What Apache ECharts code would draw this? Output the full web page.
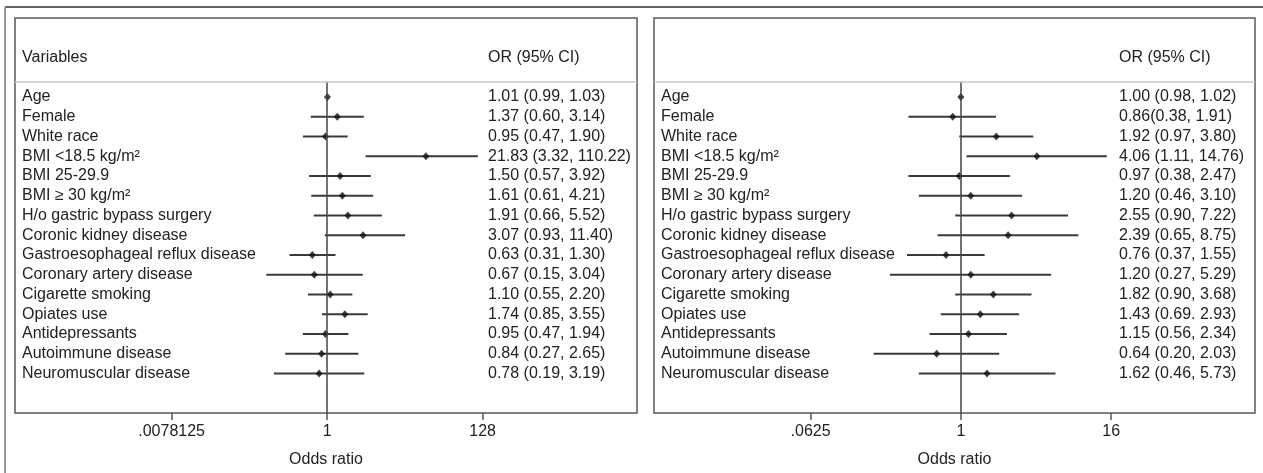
<!DOCTYPE html>
<html>
<head>
<meta charset="utf-8">
<script src="https://cdn.jsdelivr.net/npm/echarts@6/dist/echarts.min.js"></script>
<style>
html,body{margin:0;padding:0;background:#fff;}
#chart{width:1263px;height:473px;}
</style>
</head>
<body>
<div id="chart"></div>
<script>
// ---- data ----
const variables = [
  'Age', 'Female', 'White race', 'BMI <18.5 kg/m²', 'BMI 25-29.9', 'BMI ≥ 30 kg/m²',
  'H/o gastric bypass surgery', 'Coronic kidney disease', 'Gastroesophageal reflux disease',
  'Coronary artery disease', 'Cigarette smoking', 'Opiates use', 'Antidepressants',
  'Autoimmune disease', 'Neuromuscular disease'
];
// Left panel
const orL = [1.01, 1.37, 0.95, 21.83, 1.50, 1.61, 1.91, 3.07, 0.63, 0.67, 1.10, 1.74, 0.95, 0.84, 0.78];
const loL = [0.99, 0.60, 0.47, 3.32, 0.57, 0.61, 0.66, 0.93, 0.31, 0.15, 0.55, 0.85, 0.47, 0.27, 0.19];
const hiL = [1.03, 3.14, 1.90, 110.22, 3.92, 4.21, 5.52, 11.40, 1.30, 3.04, 2.20, 3.55, 1.94, 2.65, 3.19];
const textL = [
  '1.01 (0.99, 1.03)', '1.37 (0.60, 3.14)', '0.95 (0.47, 1.90)', '21.83 (3.32, 110.22)',
  '1.50 (0.57, 3.92)', '1.61 (0.61, 4.21)', '1.91 (0.66, 5.52)', '3.07 (0.93, 11.40)',
  '0.63 (0.31, 1.30)', '0.67 (0.15, 3.04)', '1.10 (0.55, 2.20)', '1.74 (0.85, 3.55)',
  '0.95 (0.47, 1.94)', '0.84 (0.27, 2.65)', '0.78 (0.19, 3.19)'
];
// Right panel
const orR = [1.00, 0.86, 1.92, 4.06, 0.97, 1.20, 2.55, 2.39, 0.76, 1.20, 1.82, 1.43, 1.15, 0.64, 1.62];
const loR = [0.98, 0.38, 0.97, 1.11, 0.38, 0.46, 0.90, 0.65, 0.37, 0.27, 0.90, 0.69, 0.56, 0.20, 0.46];
const hiR = [1.02, 1.91, 3.80, 14.76, 2.47, 3.10, 7.22, 8.75, 1.55, 5.29, 3.68, 2.93, 2.34, 2.03, 5.73];
const textR = [
  '1.00 (0.98, 1.02)', '0.86(0.38, 1.91)', '1.92 (0.97, 3.80)', '4.06 (1.11, 14.76)',
  '0.97 (0.38, 2.47)', '1.20 (0.46, 3.10)', '2.55 (0.90, 7.22)', '2.39 (0.65, 8.75)',
  '0.76 (0.37, 1.55)', '1.20 (0.27, 5.29)', '1.82 (0.90, 3.68)', '1.43 (0.69. 2.93)',
  '1.15 (0.56, 2.34)', '0.64 (0.20, 2.03)', '1.62 (0.46, 5.73)'
];
// Axis ticks
const ticksL = [0.0078125, 1, 128];
const tickLabelsL = ['.0078125', '1', '128'];
const ticksR = [0.0625, 1, 16];
const tickLabelsR = ['.0625', '1', '16'];
const headerVar = 'Variables';
const headerOR = 'OR (95% CI)';
const axisTitle = 'Odds ratio';

// ---- chart ----
const FONT = 'Liberation Sans, Arial, sans-serif';
const TXT = '#222';
const FS = 16;
const HEADER_ROW = -2;
const SEP_ROW = -0.77;

function tickFmt(vals, labels) {
  return function (v) {
    let best = -1, bd = Infinity;
    vals.forEach((t, i) => {
      const d = Math.abs(Math.log2(v) - Math.log2(t));
      if (d < bd) { bd = d; best = i; }
    });
    return bd < 0.01 ? labels[best] : '';
  };
}

function makeX(gi, min, max, vals, labels) {
  return {
    type: 'log', logBase: 2, gridIndex: gi, min: min, max: max,
    axisLine: { show: false, onZero: false },
    axisTick: { show: true, length: 7, customValues: vals, lineStyle: { color: '#555', width: 1.5 } },
    axisLabel: { customValues: vals, formatter: tickFmt(vals, labels), color: TXT, fontSize: FS, fontFamily: FONT, margin: 11 },
    splitLine: { show: false }, minorTick: { show: false }, minorSplitLine: { show: false },
    name: axisTitle, nameLocation: 'middle', nameGap: 39,
    nameTextStyle: { color: TXT, fontSize: FS, fontFamily: FONT }
  };
}

function makeYLeft(gi, margin, withHeader) {
  return {
    type: 'value', gridIndex: gi, min: -4, max: 16, interval: 1, inverse: true, position: 'left',
    axisLine: { show: false, onZero: false }, axisTick: { show: false }, splitLine: { show: false },
    axisLabel: {
      inside: true, margin: margin, align: 'left', color: TXT, fontSize: FS, fontFamily: FONT,
      formatter: v => (v === HEADER_ROW ? (withHeader ? headerVar : '') : (variables[v] || ''))
    }
  };
}
function makeYRight(gi, margin, texts) {
  return {
    type: 'value', gridIndex: gi, min: -4, max: 16, interval: 1, inverse: true, position: 'right',
    axisLine: { show: false, onZero: false }, axisTick: { show: false }, splitLine: { show: false },
    axisLabel: {
      inside: true, margin: margin, align: 'left', color: TXT, fontSize: FS, fontFamily: FONT,
      formatter: v => (v === HEADER_ROW ? headerOR : (texts[v] || ''))
    }
  };
}

function panelSeries(gi, or, lo, hi) {
  const ciData = or.map((_, i) => [lo[i], hi[i], i]);
  const ptData = or.map((v, i) => [v, i]);
  return [
    {
      type: 'custom', xAxisIndex: gi, yAxisIndex: gi * 2, silent: true,
      encode: { x: [0, 1], y: 2 },
      data: ciData,
      renderItem: function (params, api) {
        const a = api.coord([api.value(0), api.value(2)]);
        const b = api.coord([api.value(1), api.value(2)]);
        return { type: 'line', shape: { x1: a[0], y1: a[1], x2: b[0], y2: b[1] }, style: { stroke: '#3a3a3a', lineWidth: 2.2 } };
      },
      z: 3
    },
    {
      type: 'scatter', xAxisIndex: gi, yAxisIndex: gi * 2, silent: true,
      symbol: 'diamond', symbolSize: [7, 8],
      itemStyle: { color: '#111' },
      data: ptData, z: 4,
      markLine: {
        silent: true, symbol: 'none', label: { show: false },
        data: [
          [{ coord: [1, SEP_ROW] }, { coord: [1, 16] }]
        ],
        lineStyle: { color: '#444', width: 1.5, type: 'solid' }
      }
    },
    {
      type: 'line', xAxisIndex: gi, yAxisIndex: gi * 2, silent: true, data: [], showSymbol: false,
      markLine: {
        silent: true, symbol: 'none', label: { show: false },
        data: [{ yAxis: SEP_ROW }],
        lineStyle: { color: '#c8c8c8', width: 1.5, type: 'solid' }
      }
    }
  ];
}

const chart = echarts.init(document.getElementById('chart'), null, { renderer: 'canvas' });
chart.setOption({
  animation: false,
  backgroundColor: '#fff',
  textStyle: { fontFamily: FONT },
  graphic: [
    { type: 'line', shape: { x1: 5, y1: 7, x2: 1263, y2: 7 }, style: { stroke: '#333', lineWidth: 1.5 }, silent: true },
    { type: 'line', shape: { x1: 5, y1: 7, x2: 5, y2: 473 }, style: { stroke: '#999', lineWidth: 2 }, silent: true }
  ],
  grid: [
    { left: 15, top: 18, width: 622, height: 396, show: true, borderColor: '#5a5a5a', borderWidth: 1.5, backgroundColor: 'transparent' },
    { left: 654, top: 18, width: 601, height: 396, show: true, borderColor: '#5a5a5a', borderWidth: 1.5, backgroundColor: 'transparent' }
  ],
  xAxis: [
    makeX(0, Math.pow(2, -14.05), Math.pow(2, 13.95), ticksL, tickLabelsL),
    makeX(1, Math.pow(2, -8.17), Math.pow(2, 7.83), ticksR, tickLabelsR)
  ],
  yAxis: [
    makeYLeft(0, 7, true), makeYRight(0, 149, textL),
    makeYLeft(1, 7, false), makeYRight(1, 136, textR)
  ],
  series: [].concat(panelSeries(0, orL, loL, hiL), panelSeries(1, orR, loR, hiR))
});
</script>
</body>
</html>
